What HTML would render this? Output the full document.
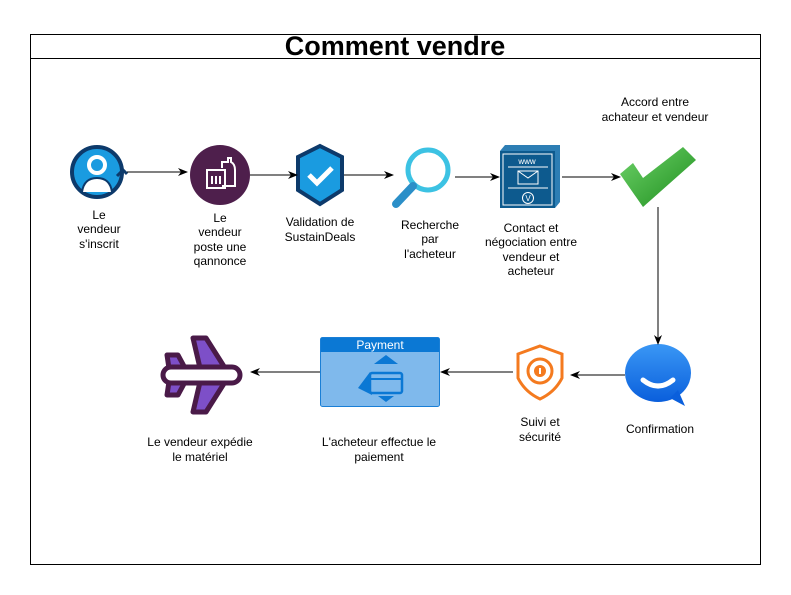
<!DOCTYPE html>
<html><head><meta charset="utf-8"><style>
html,body{margin:0;padding:0;background:#fff;}
svg{display:block;font-family:"Liberation Sans",sans-serif;}
</style></head><body>
<svg width="791" height="595" viewBox="0 0 791 595" xmlns="http://www.w3.org/2000/svg">
<defs>
<marker id="a" markerWidth="10" markerHeight="8" refX="9" refY="4" orient="auto" markerUnits="userSpaceOnUse">
<path d="M0,0 L10,4 L0,8 L3,4 Z" fill="#000"/></marker>
<linearGradient id="chat" x1="0" y1="0" x2="0" y2="1"><stop offset="0" stop-color="#3a97f5"/><stop offset="1" stop-color="#0a5fdc"/></linearGradient>
<linearGradient id="chk" x1="0" y1="0" x2="1" y2="1"><stop offset="0" stop-color="#6fd36a"/><stop offset="1" stop-color="#1d8d1d"/></linearGradient>
</defs>
<rect x="30.5" y="34.5" width="730" height="530" fill="#fff" stroke="#000"/>
<line x1="30" y1="58.5" x2="761" y2="58.5" stroke="#000"/>
<text x="395" y="55" text-anchor="middle" font-size="27" font-weight="bold">Comment vendre</text>

<circle cx="97" cy="172" r="25" fill="#1a9be0" stroke="#0d3a6b" stroke-width="4"/>
<circle cx="97" cy="165" r="8" fill="none" stroke="#fff" stroke-width="4"/>
<path d="M82,192 Q84,178 97,178 Q110,178 112,192" fill="#fff"/>
<path d="M82,192 Q84,178 97,178 Q110,178 112,192" fill="none" stroke="#0d3a6b" stroke-width="2"/>
<path d="M117,176 l6,-6 l4,4" fill="none" stroke="#0d3a6b" stroke-width="3"/>
<circle cx="220" cy="175" r="30" fill="#4e1f4c"/>
<rect x="207" y="170" width="18" height="18" fill="none" stroke="#fff" stroke-width="2"/>
<line x1="212" y1="176" x2="212" y2="184" stroke="#fff" stroke-width="2"/><line x1="216" y1="176" x2="216" y2="184" stroke="#fff" stroke-width="2"/><line x1="220" y1="176" x2="220" y2="184" stroke="#fff" stroke-width="2"/>
<path d="M222,168 v-6 h6 v-4 h3 v4 q4,2 4,8 v16 h-13" fill="none" stroke="#fff" stroke-width="2"/>
<path d="M320,146 L342,157 L342,190 L320,204 L298,190 L298,157 Z" fill="#1a9be0" stroke="#0d3a6b" stroke-width="4"/>
<path d="M309,175 l8,8 l15,-15" fill="none" stroke="#fff" stroke-width="5"/>
<circle cx="428" cy="170" r="20" fill="#fff" stroke="#3cc2e3" stroke-width="5"/>
<line x1="413" y1="186" x2="396" y2="204" stroke="#2b8fc8" stroke-width="8" stroke-linecap="round"/>
<path d="M500,151 L505,145 L560,145 L560,202 L555,208 Z" fill="#2d7eb4"/>
<rect x="500" y="151" width="55" height="57" fill="#0d5a8e"/>
<rect x="503" y="154" width="49" height="51" fill="none" stroke="#fff" stroke-width="1"/>
<text x="527" y="164" text-anchor="middle" font-size="8" fill="#fff">www</text>
<line x1="508" y1="167" x2="548" y2="167" stroke="#fff"/>
<rect x="518" y="171" width="20" height="13" fill="none" stroke="#fff"/>
<path d="M518,171 l10,7 l10,-7" fill="none" stroke="#fff"/>
<line x1="508" y1="188" x2="548" y2="188" stroke="#fff"/>
<circle cx="528" cy="198" r="5.5" fill="none" stroke="#fff"/>
<text x="528" y="201" text-anchor="middle" font-size="8" fill="#fff">V</text>
<path d="M620,174 L633,163 L643,178 L683,147 L696,160 L643,207 Z" fill="url(#chk)"/>
<ellipse cx="658" cy="373" rx="33" ry="29" fill="url(#chat)"/>
<path d="M670,398 L685,406 L678,390 Z" fill="#0a5fdc"/>
<path d="M643,380 Q658,392 673,380" fill="none" stroke="#fff" stroke-width="5" stroke-linecap="round"/>
<path d="M540,346 L562,354 L562,378 Q555,392 540,399 Q525,392 518,378 L518,354 Z" fill="none" stroke="#f47a1f" stroke-width="3"/>
<circle cx="540" cy="371" r="12" fill="none" stroke="#f47a1f" stroke-width="3"/>
<circle cx="540" cy="371" r="6" fill="#f47a1f"/>
<rect x="539" y="368" width="2" height="6" fill="#fff"/>
<rect x="320.5" y="337.5" width="119" height="69" rx="2" fill="#7fb9ec" stroke="#1a7fd6"/>
<rect x="321" y="338" width="118" height="14" fill="#0b78d4"/>
<text x="380" y="349" text-anchor="middle" font-size="12" fill="#fff">Payment</text>
<path d="M374,364 L386,355 L398,364 Z" fill="#0b78d4"/>
<path d="M370,372 L358,388 L372,395 Z" fill="#0b78d4"/>
<rect x="370" y="373" width="32" height="20" rx="2" fill="#7fb9ec" stroke="#0b78d4" stroke-width="2.5"/>
<line x1="370" y1="379" x2="402" y2="379" stroke="#0b78d4" stroke-width="2"/>
<path d="M378,396 L394,396 L386,402 Z" fill="#0b78d4"/>
<path d="M193,338 L206,338 L225,368 L225,382 L206,412 L193,412 L200,382 L185,382 L178,395 L167,395 L170,375 L167,355 L178,355 L185,368 L200,368 Z" fill="#7d4fc8" stroke="#4a1a48" stroke-width="5" stroke-linejoin="round"/>
<rect x="163" y="367" width="77" height="16" rx="8" fill="#fff" stroke="#4a1a48" stroke-width="5"/>

<g stroke="#000" stroke-width="1" fill="none">
<line x1="127" y1="172" x2="187" y2="172" marker-end="url(#a)"/>
<line x1="250" y1="175" x2="297" y2="175" marker-end="url(#a)"/>
<line x1="344" y1="175" x2="393" y2="175" marker-end="url(#a)"/>
<line x1="455" y1="177" x2="499" y2="177" marker-end="url(#a)"/>
<line x1="562" y1="177" x2="620" y2="177" marker-end="url(#a)"/>
<line x1="658" y1="207" x2="658" y2="344" marker-end="url(#a)"/>
<line x1="625" y1="375" x2="571" y2="375" marker-end="url(#a)"/>
<line x1="513" y1="372" x2="441" y2="372" marker-end="url(#a)"/>
<line x1="320" y1="372" x2="251" y2="372" marker-end="url(#a)"/>
</g>

<g font-size="12" text-anchor="middle" fill="#000">
<text x="99" y="219">Le</text><text x="99" y="233">vendeur</text><text x="99" y="248">s'inscrit</text>
<text x="220" y="222">Le</text><text x="220" y="236">vendeur</text><text x="220" y="251">poste une</text><text x="220" y="265">qannonce</text>
<text x="320" y="226">Validation de</text><text x="320" y="241">SustainDeals</text>
<text x="430" y="229">Recherche</text><text x="430" y="243">par</text><text x="430" y="258">l'acheteur</text>
<text x="531" y="232">Contact et</text><text x="531" y="246">négociation entre</text><text x="531" y="261">vendeur et</text><text x="531" y="275">acheteur</text>
<text x="655" y="106">Accord entre</text><text x="655" y="121">achateur et vendeur</text>
<text x="660" y="433">Confirmation</text>
<text x="540" y="426">Suivi et</text><text x="540" y="441">sécurité</text>
<text x="379" y="446">L'acheteur effectue le</text><text x="379" y="461">paiement</text>
<text x="200" y="446">Le vendeur expédie</text><text x="200" y="461">le matériel</text>
</g>
</svg>
</body></html>
